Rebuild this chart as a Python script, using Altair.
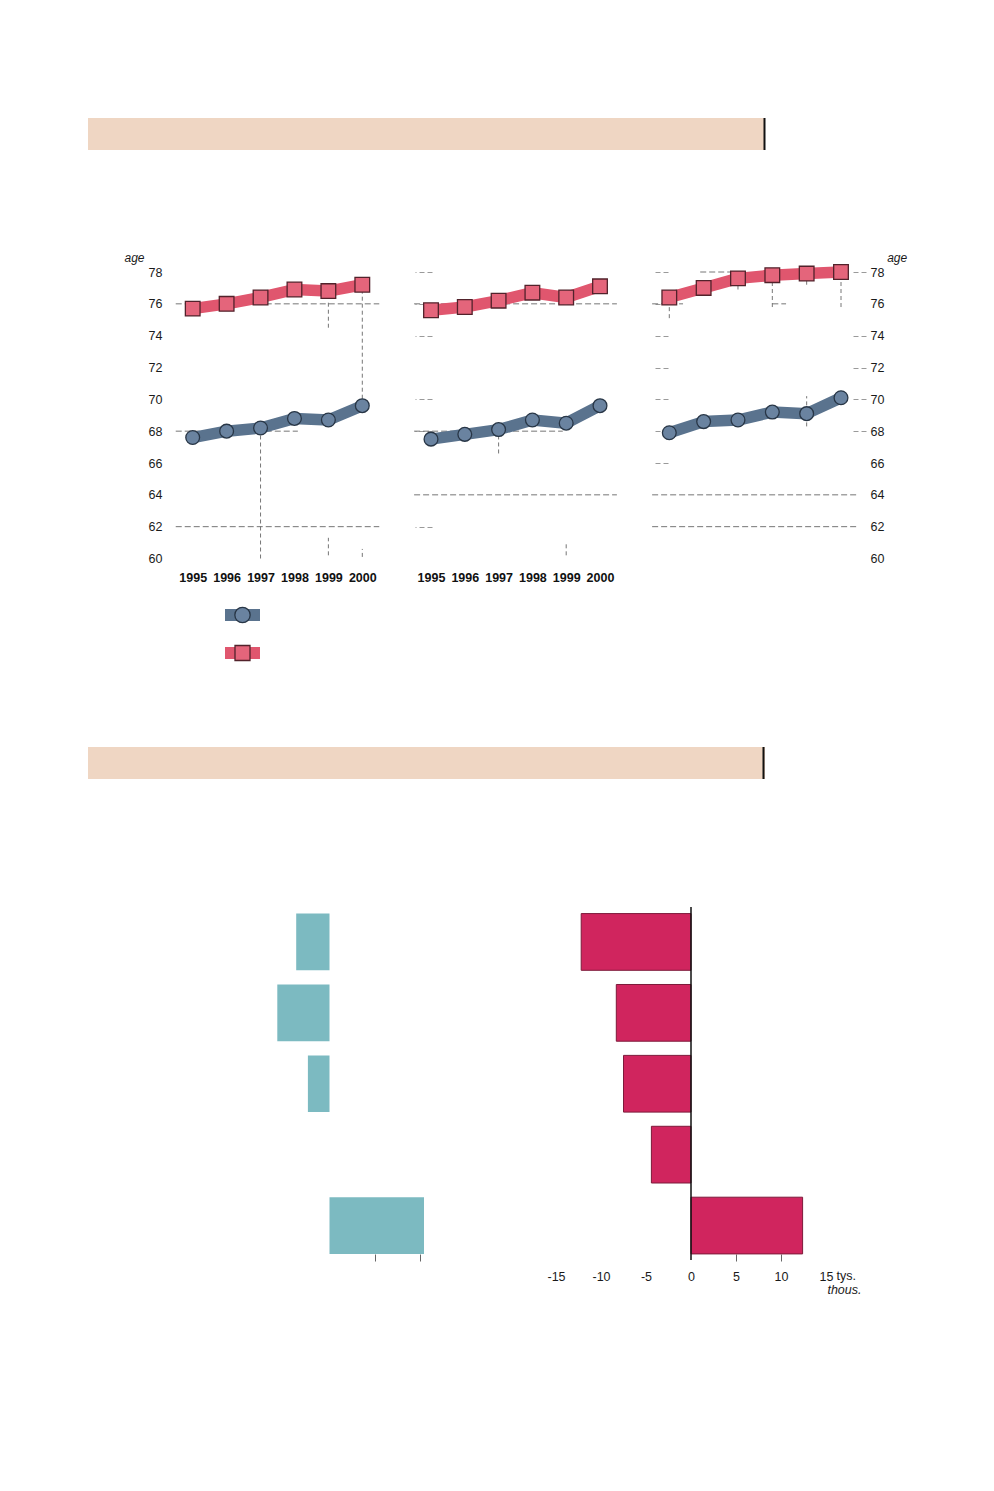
import altair as alt
import pandas as pd

# ---------------- data ----------------
years = [1995, 1996, 1997, 1998, 1999, 2000]
age_ticks = [60, 62, 64, 66, 68, 70, 72, 74, 76, 78]

men_a = [67.6, 68.0, 68.2, 68.8, 68.7, 69.6]
women_a = [75.7, 76.0, 76.4, 76.9, 76.8, 77.2]
men_b = [67.5, 67.8, 68.1, 68.7, 68.5, 69.6]
women_b = [75.6, 75.8, 76.2, 76.7, 76.4, 77.1]
men_c = [67.9, 68.6, 68.7, 69.2, 69.1, 70.1]
women_c = [76.4, 77.0, 77.6, 77.8, 77.9, 78.0]

# faint dashed grid remnants: (age, from year, to year) and (year, from age, to age)
grid_h_a = [(76, 1994.5, 2000.5), (62, 1994.5, 2000.5), (68, 1994.5, 1998.1)]
grid_v_a = [(1997, 60.0, 68.2), (2000, 69.6, 77.2), (1999, 74.5, 76.2), (1999, 60.2, 61.3), (2000, 60.1, 60.6)]
grid_h_b = [(76, 1994.5, 2000.5), (64, 1994.5, 2000.5), (68, 1994.5, 1998.9)]
grid_v_b = [(1997, 66.6, 68.1), (1999, 60.2, 60.9)]
grid_h_c = [(64, 1994.5, 2000.5), (62, 1994.5, 2000.5), (78, 1995.9, 1997.0),
            (76, 1994.5, 1995.4), (76, 1998.0, 1998.4)]
grid_v_c = [(1995, 75.1, 76.2), (1997, 76.9, 77.6), (1998, 75.8, 77.7), (1999, 77.2, 77.9),
            (2000, 75.8, 78.0), (1999, 68.3, 70.2)]
ghost_ticks_b_left = [62, 68, 70, 74, 76, 78]
ghost_ticks_c_left = [66, 68, 70, 72, 74, 76, 78]
ghost_ticks_c_right = [68, 70, 72, 74, 78]

legend_series = ["men", "women"]

bar_rows = ["r1", "r2", "r3", "r4", "r5"]
teal_values = [-3.7, -5.8, -2.4, 0.0, 10.5]
red_values = [-12.2, -8.3, -7.5, -4.4, 12.4]
bar_ticks = [-15, -10, -5, 0, 5, 10, 15]
bar_dark_ticks = [5, 10]

# ---------------- layout / style ----------------
W, H = 978, 1475
Y_RANGE = [550.5, 264.0]
PANEL_X = [[184.7, 354.3], [423.0, 592.0], [661.3, 833.0]]
FONT = "Liberation Sans, Arial, Helvetica, sans-serif"
RED_LINE, RED_FILL, RED_EDGE = "#e0566e", "#e4657b", "#52222b"
BLUE_LINE, BLUE_FILL, BLUE_EDGE = "#5a738e", "#6a83a0", "#283646"
GRID = "#666666"
TEAL = "#7cbac1"
RED_BAR, RED_BAR_EDGE = "#d0255e", "#7d1a3a"
PEACH = "#efd6c3"
LABEL_SIZE = 12.5


def yscale():
    return alt.Scale(domain=[60, 78], range=Y_RANGE, nice=False, zero=False)


def xscale(i):
    return alt.Scale(domain=[1995, 2000], range=PANEL_X[i], nice=False, zero=False)


def year_axis():
    return alt.Axis(orient="bottom", offset=552 - H, values=years, format="d", grid=False,
                    domain=False, ticks=False, tickSize=0, labelPadding=11.5, labelFont=FONT,
                    labelFontSize=12.5, labelFontWeight="bold", labelColor="#111",
                    labelFlush=False, labelOverlap=False, title=None)


def ghost_axis(orient, pos, size, vals):
    off = -pos if orient == "left" else pos - W
    return alt.Axis(orient=orient, offset=off, values=vals, grid=False, domain=False,
                    labels=False, ticks=True, tickSize=size, tickColor="#9a9a9a",
                    tickDash=[5, 3], tickWidth=1, title=None)


age_label_common = dict(values=age_ticks, grid=False, domain=False, ticks=False, tickSize=0,
                        labelFont=FONT, labelFontSize=LABEL_SIZE, labelColor="#1a1a1a",
                        title="age", titleFont=FONT,
                        titleFontSize=12, titleFontStyle="italic", titleFontWeight="normal",
                        titleColor="#1a1a1a", titleAngle=0, titleAlign="center",
                        titleBaseline="middle", titleY=249.5)

y_axes_main = [
    alt.Axis(orient="left", offset=-167, labelPadding=13, titleX=-41, **age_label_common),
    ghost_axis("left", 424, 17, ghost_ticks_b_left),
    alt.Axis(orient="right", offset=837 - W, labelPadding=25, titleX=51.7, **age_label_common),
]
y_axes_extra = [None, None, ghost_axis("left", 660, 16, ghost_ticks_c_left)]
y_axes_third = [None, None, ghost_axis("right", 845, 13, ghost_ticks_c_right)]
x_axes = [year_axis(), year_axis(), None]

panels = [
    (men_a, women_a, grid_h_a, grid_v_a),
    (men_b, women_b, grid_h_b, grid_v_b),
    (men_c, women_c, grid_h_c, grid_v_c),
]

layers = []

# section header bands
hdr = pd.DataFrame({"k": [0]})
for top, xline in [(110, 756.5), (739, 755.5)]:
    layers.append(alt.Chart(hdr).mark_rect(color=PEACH).encode(
        x=alt.value(80), x2=alt.value(757), y=alt.value(top), y2=alt.value(top + 32)))
    layers.append(alt.Chart(hdr).mark_rule(color="#111", strokeWidth=2).encode(
        x=alt.value(xline), y=alt.value(top), y2=alt.value(top + 32)))

for i, (men, women, gh, gv) in enumerate(panels):
    gh_df = pd.DataFrame(gh, columns=["age", "x0", "x1"])
    gv_df = pd.DataFrame(gv, columns=["year", "y0", "y1"])
    layers.append(alt.Chart(gh_df).mark_rule(color=GRID, strokeWidth=0.9, strokeDash=[6, 3]).encode(
        x=alt.X("x0:Q", scale=xscale(i), axis=x_axes[i]),
        x2="x1:Q",
        y=alt.Y("age:Q", scale=yscale(), axis=y_axes_main[i]),
    ))
    layers.append(alt.Chart(gv_df).mark_rule(color=GRID, strokeWidth=0.9, strokeDash=[4, 3]).encode(
        x=alt.X("year:Q", scale=xscale(i), axis=None),
        y=alt.Y("y0:Q", scale=yscale(), axis=y_axes_extra[i]),
        y2="y1:Q",
    ))
    for k, (vals, lc, fc, ec, shape) in enumerate([(women, RED_LINE, RED_FILL, RED_EDGE, "square"),
                                                    (men, BLUE_LINE, BLUE_FILL, BLUE_EDGE, "circle")]):
        df = pd.DataFrame({"year": years, "value": vals})
        base = alt.Chart(df)
        layers.append(base.mark_line(color=lc, strokeWidth=11.5, strokeJoin="round").encode(
            x=alt.X("year:Q", scale=xscale(i), axis=None),
            y=alt.Y("value:Q", scale=yscale(), axis=y_axes_third[i] if k == 0 else None),
        ))
        if shape == "square":
            pm = base.mark_square(size=215, color=fc, stroke=ec, strokeWidth=1.3, opacity=1)
        else:
            pm = base.mark_circle(size=190, color=fc, stroke=ec, strokeWidth=1.3, opacity=1)
        layers.append(pm.encode(
            x=alt.X("year:Q", scale=xscale(i), axis=None),
            y=alt.Y("value:Q", scale=yscale(), axis=None),
        ))

# legend swatches
leg_x = alt.Scale(domain=[0, 1], range=[217, 252], nice=False, zero=False)
leg_y = alt.Scale(type="point", domain=legend_series, range=[607, 645], padding=0)
for s, lc, fc, ec, shape in [("men", BLUE_LINE, BLUE_FILL, BLUE_EDGE, "circle"),
                             ("women", RED_LINE, RED_FILL, RED_EDGE, "square")]:
    ldf = pd.DataFrame({"series": [s, s], "pos": [0, 1]})
    layers.append(alt.Chart(ldf).mark_line(color=lc, strokeWidth=12).encode(
        x=alt.X("pos:Q", scale=leg_x, axis=None),
        y=alt.Y("series:N", scale=leg_y, axis=None),
    ))
    mdf = pd.DataFrame({"series": [s], "pos": [0.5]})
    if shape == "square":
        pm = alt.Chart(mdf).mark_square(size=225, color=fc, stroke=ec, strokeWidth=1.3, opacity=1)
    else:
        pm = alt.Chart(mdf).mark_circle(size=235, color=fc, stroke=ec, strokeWidth=1.3, opacity=1)
    layers.append(pm.encode(
        x=alt.X("pos:Q", scale=leg_x, axis=None),
        y=alt.Y("series:N", scale=leg_y, axis=None),
    ))

# horizontal bar charts
bars_df = pd.DataFrame({"row": bar_rows, "teal": teal_values, "red": red_values})


def band():
    return alt.Scale(type="band", domain=bar_rows, range=[898.5, 1253],
                     paddingInner=0.2, paddingOuter=0.1)


teal_x = alt.Scale(domain=[-15, 15], range=[186.5, 456.5], nice=False, zero=False)
red_x = alt.Scale(domain=[-15, 15], range=[548, 818], nice=False, zero=False)
AX_OFF = 1246 - H

layers.append(alt.Chart(bars_df).mark_bar(color=TEAL).encode(
    x=alt.X("teal:Q", scale=teal_x,
            axis=alt.Axis(orient="bottom", offset=AX_OFF, values=bar_dark_ticks, grid=False,
                          domain=False, labels=False, tickSize=7, tickColor="#666", title=None)),
    x2=alt.datum(0),
    y=alt.Y("row:N", scale=band(), axis=None),
))

layers.append(alt.Chart(bars_df).mark_bar(color=RED_BAR, stroke=RED_BAR_EDGE, strokeWidth=1).encode(
    x=alt.X("red:Q", scale=red_x,
            axis=alt.Axis(orient="bottom", offset=AX_OFF, values=bar_ticks, grid=False, domain=False,
                          ticks=False, tickSize=0, labelPadding=16, labelFont=FONT,
                          labelFontSize=12.5, labelColor="#1a1a1a", labelFlush=False,
                          labelExpr="datum.value < 0 ? '-' + abs(datum.value) : '' + datum.value",
                          title="tys.", titleFont=FONT, titleFontSize=12.5, titleFontWeight="normal",
                          titleColor="#1a1a1a", titleX=828, titleY=25.7, titleAlign="left",
                          titleBaseline="alphabetic")),
    x2=alt.datum(0),
    y=alt.Y("row:N", scale=band(), axis=None),
))

layers.append(alt.Chart(hdr).mark_rule(color="#111", strokeWidth=1.5).encode(
    x=alt.XDatum(0, type="quantitative", scale=red_x,
                 axis=alt.Axis(orient="bottom", offset=AX_OFF, values=bar_dark_ticks, labels=False,
                               ticks=True, tickSize=7, tickColor="#666", domain=False, grid=False,
                               title="thous.", titleFont=FONT,
                               titleFontSize=12.5, titleFontStyle="italic",
                               titleFontWeight="normal", titleColor="#1a1a1a", titleX=853,
                               titleY=39, titleAlign="right", titleBaseline="alphabetic")),
    y=alt.value(899), y2=alt.value(1252),
))

chart = alt.layer(*layers).resolve_scale(x="independent", y="independent").properties(
    width=W, height=H, padding=0, background="white"
).configure_view(strokeWidth=0)

chart.save("out.html", embed_options={"renderer": "svg", "actions": False})
